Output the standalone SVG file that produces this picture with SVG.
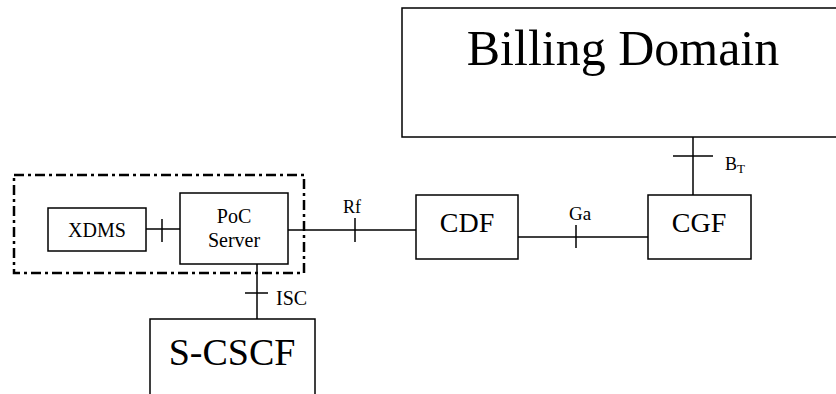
<svg xmlns="http://www.w3.org/2000/svg" width="836" height="394" viewBox="0 0 836 394">
<style>
.box{fill:#fff;stroke:#000;stroke-width:1.5}
.ln{stroke:#000;stroke-width:1.5;fill:none}
text{font-family:"Liberation Serif","Times New Roman",serif;fill:#000}
.c{text-anchor:middle}
</style>
<rect width="836" height="394" fill="#fff"/>
<rect x="14" y="175" width="290" height="98" fill="none" stroke="#000" stroke-width="2.5" stroke-dasharray="10,4,3,4"/>
<g id="connectors">
<line class="ln" x1="146" y1="229" x2="180" y2="229"/>
<line class="ln" x1="162" y1="219" x2="162" y2="242"/>
<line class="ln" x1="288" y1="230" x2="416" y2="230"/>
<line class="ln" x1="355" y1="218" x2="355" y2="242"/>
<text x="352" y="213" class="c" font-size="18">Rf</text>
<line class="ln" x1="257" y1="264" x2="257" y2="319"/>
<line class="ln" x1="245" y1="293" x2="268" y2="293"/>
<text x="276" y="305" font-size="20">ISC</text>
<line class="ln" x1="518" y1="237" x2="648" y2="237"/>
<line class="ln" x1="576" y1="225" x2="576" y2="248"/>
<text x="580" y="220" class="c" font-size="19">Ga</text>
<line class="ln" x1="693" y1="137" x2="693" y2="195"/>
<line class="ln" x1="673" y1="156" x2="713" y2="156"/>
<text x="725" y="170" font-size="18">B<tspan font-size="13" dy="3">T</tspan></text>
</g>
<g id="billing"><rect class="box" x="402" y="8" width="440" height="129"/><text x="623" y="65" class="c" font-size="50">Billing Domain</text></g>
<g id="xdms"><rect class="box" x="48" y="208" width="98" height="43"/><text x="97" y="237" class="c" font-size="20">XDMS</text></g>
<g id="poc"><rect class="box" x="180" y="193" width="108" height="71"/><text x="234" y="223" class="c" font-size="20">PoC</text><text x="234" y="247" class="c" font-size="20">Server</text></g>
<g id="cdf"><rect class="box" x="416" y="195" width="102" height="64"/><text x="467" y="232" class="c" font-size="28">CDF</text></g>
<g id="cgf"><rect class="box" x="648" y="195" width="103" height="64"/><text x="699" y="232" class="c" font-size="28">CGF</text></g>
<g id="scscf"><rect class="box" x="150" y="319" width="165" height="90"/><text x="232" y="365" class="c" font-size="38">S-CSCF</text></g>
</svg>
